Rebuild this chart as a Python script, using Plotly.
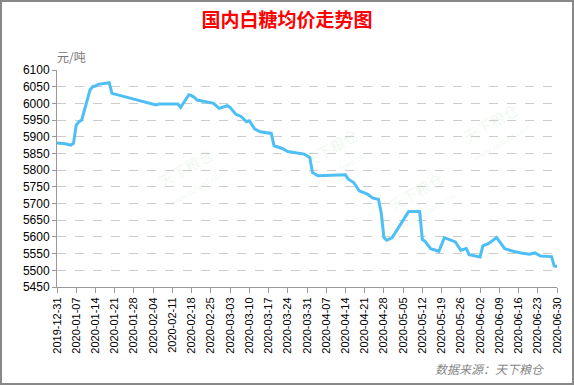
import plotly.graph_objects as go

dates = [
    "2019-12-31", "2020-01-03", "2020-01-05", "2020-01-06", "2020-01-07", "2020-01-08",
    "2020-01-09", "2020-01-10", "2020-01-11", "2020-01-12", "2020-01-13", "2020-01-14",
    "2020-01-15", "2020-01-16", "2020-01-19", "2020-01-20", "2020-02-04", "2020-02-05",
    "2020-02-06", "2020-02-13", "2020-02-14", "2020-02-17", "2020-02-18", "2020-02-19",
    "2020-02-20", "2020-02-24", "2020-02-26", "2020-02-28", "2020-03-02", "2020-03-03",
    "2020-03-05", "2020-03-07", "2020-03-09", "2020-03-10", "2020-03-12", "2020-03-14",
    "2020-03-18", "2020-03-19", "2020-03-22", "2020-03-24", "2020-03-26", "2020-03-30",
    "2020-04-01", "2020-04-02", "2020-04-04", "2020-04-14", "2020-04-15", "2020-04-17",
    "2020-04-19", "2020-04-22", "2020-04-24", "2020-04-26", "2020-04-27", "2020-04-28",
    "2020-04-29", "2020-05-01", "2020-05-06", "2020-05-07", "2020-05-11", "2020-05-12",
    "2020-05-13", "2020-05-15", "2020-05-18", "2020-05-20", "2020-05-24", "2020-05-25",
    "2020-05-26", "2020-05-28", "2020-05-29", "2020-06-02", "2020-06-03", "2020-06-05",
    "2020-06-08", "2020-06-11", "2020-06-14", "2020-06-17", "2020-06-20", "2020-06-22",
    "2020-06-24", "2020-06-28", "2020-06-29", "2020-06-30",
]
prices = [
    5881, 5879, 5875, 5880, 5935, 5945,
    5950, 5982, 6012, 6040, 6050, 6052,
    6057, 6058, 6062, 6030, 5998, 5995,
    5998, 5998, 5988, 6026, 6023, 6018,
    6010, 6003, 6000, 5985, 5993, 5988,
    5968, 5961, 5945, 5948, 5923, 5915,
    5910, 5873, 5865, 5856, 5853, 5848,
    5838, 5793, 5783, 5786, 5773, 5763,
    5738, 5728, 5716, 5713, 5673, 5598,
    5590, 5598, 5663, 5676, 5676, 5592,
    5587, 5565, 5557, 5598, 5585, 5573,
    5560, 5565, 5547, 5540, 5573, 5580,
    5598, 5565, 5557, 5552, 5548, 5552,
    5543, 5541, 5513, 5511,
]

title_text = "国内白糖均价走势图"
unit_text = "元/吨"
source_text = "数据来源：天下粮仓"

fig = go.Figure()
fig.add_trace(go.Scatter(
    x=dates, y=prices, mode="lines",
    line=dict(color="#4DBFF5", width=3, shape="linear"),
    hoverinfo="x+y", showlegend=False,
))

fig.update_layout(
    width=574, height=385,
    margin=dict(l=57, r=17, t=70, b=98, autoexpand=False),
    paper_bgcolor="white", plot_bgcolor="white",
    font=dict(family="Arial, Liberation Sans, sans-serif", color="black"),
    title=dict(
        text=title_text, x=0.5, xanchor="center", y=1 - 20 / 385, yanchor="middle",
        font=dict(family="Noto Sans CJK SC", size=19, color="#FF0000", weight="bold"),
    ),
    xaxis=dict(
        type="date",
        range=["2019-12-31", "2020-06-30"],
        tick0="2019-12-31", dtick=7 * 24 * 3600 * 1000,
        tickformat="%Y-%m-%d", tickangle=-90,
        tickfont=dict(size=11, color="black"),
        showgrid=False, showline=True, linecolor="#999999", linewidth=1,
        ticks="outside", ticklen=5, tickcolor="#999999",
        zeroline=False,
    ),
    yaxis=dict(
        range=[5450, 6100], tick0=5450, dtick=50,
        tickfont=dict(size=12, color="black"),
        showgrid=True, gridcolor="#CCCCCC", griddash="dash", gridwidth=1,
        showline=True, linecolor="#999999", linewidth=1,
        ticks="outside", ticklen=4, tickcolor="#999999",
        zeroline=False,
    ),
)

# unit label and source
fig.add_annotation(text=unit_text, xref="paper", yref="paper", x=-0.004, y=(287 - 56) / 217,
                   xanchor="left", yanchor="middle", showarrow=False,
                   font=dict(family="Noto Sans CJK SC", size=12, color="#777777"))
fig.add_annotation(text="<i>" + source_text + "</i>", xref="paper", yref="paper",
                   x=(547 - 57) / 500, y=(287 - 368) / 217,
                   xanchor="right", yanchor="middle", showarrow=False,
                   font=dict(family="Noto Sans CJK SC", size=12, color="#888888"))

# faint watermarks
for px, py in [(150, 140), (335, 120), (460, 235), (535, 95)]:
    fig.add_annotation(text="天下粮仓<br><span style='font-size:8px'>www.cofeed.com</span>",
                       xref="paper", yref="paper",
                       x=(px - 57) / 500, y=(287 - py) / 217,
                       showarrow=False, textangle=-30,
                       font=dict(family="Noto Sans CJK SC", size=15, color="rgba(150,210,150,0.16)"))

# outer frame
fig.add_shape(type="rect", xref="paper", yref="paper",
              x0=(1 - 57) / 500, x1=(573 - 57) / 500,
              y0=(287 - 384) / 217, y1=(287 - 1) / 217,
              line=dict(color="#888888", width=2), fillcolor="rgba(0,0,0,0)", layer="above")

fig.write_html("out.html",
               config={"displayModeBar": False},
               post_script="document.body.style.margin='0px';document.body.style.padding='0px';")
